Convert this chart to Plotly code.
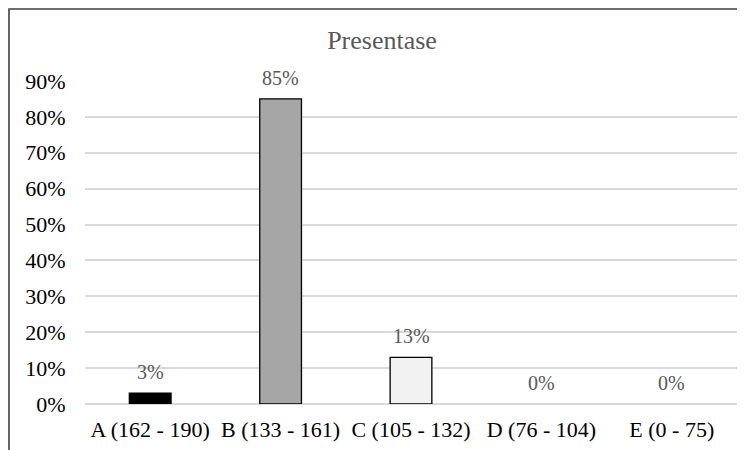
import plotly.graph_objects as go

categories = ["A (162 - 190)", "B (133 - 161)", "C (105 - 132)", "D (76 - 104)", "E (0 - 75)"]
values = [0.03, 0.85, 0.13, 0.0, 0.0]
bar_colors = ["#000000", "#a6a6a6", "#f2f2f2", "#ffffff", "#ffffff"]
tick_vals = [0, 0.1, 0.2, 0.3, 0.4, 0.5, 0.6, 0.7, 0.8, 0.9]
tick_text = ["0%", "10%", "20%", "30%", "40%", "50%", "60%", "70%", "80%", "90%"]
labels = [f"{round(v * 100)}%" for v in values]

font_family = "Liberation Serif, Times New Roman, serif"

line_widths = [1.3 if v > 0 else 0 for v in values]

fig = go.Figure(
    go.Bar(
        x=categories,
        y=values,
        cliponaxis=False,
        marker=dict(color=bar_colors, line=dict(color="#000000", width=line_widths)),
        hoverinfo="x+y",
    )
)

for c, v, t in zip(categories, values, labels):
    fig.add_annotation(
        x=c, y=v, text=t, showarrow=False, yanchor="middle", yshift=21,
        font=dict(family=font_family, size=20, color="#595959"),
    )

# page body has an 8px margin, so the figure sits 8px in from the window corner
W, H = 737, 442
L, R, T, B = 77, 8, 73, 46
pw = W - L - R
ph = H - T - B

fig.update_layout(
    width=W,
    height=H,
    margin=dict(l=L, r=R, t=T, b=B),
    paper_bgcolor="white",
    plot_bgcolor="white",
    bargap=0.68,
    showlegend=False,
    title=dict(
        text="Presentase",
        x=374 / W,
        xanchor="center",
        y=1 - 32 / H,
        yanchor="middle",
        font=dict(family=font_family, size=26, color="#595959"),
    ),
    xaxis=dict(
        showgrid=False,
        showline=False,
        ticks="outside",
        ticklen=6,
        tickcolor="rgba(0,0,0,0)",
        tickfont=dict(family=font_family, size=22, color="#000000"),
    ),
    yaxis=dict(
        range=[0, 0.9],
        tickvals=tick_vals,
        ticktext=tick_text,
        showgrid=True,
        gridcolor="#d9d9d9",
        gridwidth=1.5,
        zeroline=True,
        zerolinecolor="#d9d9d9",
        zerolinewidth=1.5,
        showline=False,
        ticks="outside",
        ticklen=14,
        tickcolor="rgba(0,0,0,0)",
        tickfont=dict(family=font_family, size=22, color="#000000"),
    ),
    shapes=[
        dict(
            type="rect",
            xref="paper",
            yref="paper",
            x0=(1 - L) / pw,
            x1=(W + 20 - L) / pw,
            y0=-(B + 20) / ph,
            y1=1 + (T - 1) / ph,
            line=dict(color="#404040", width=1.6),
            fillcolor="rgba(0,0,0,0)",
            layer="above",
        )
    ],
)

fig.write_html("out.html")
